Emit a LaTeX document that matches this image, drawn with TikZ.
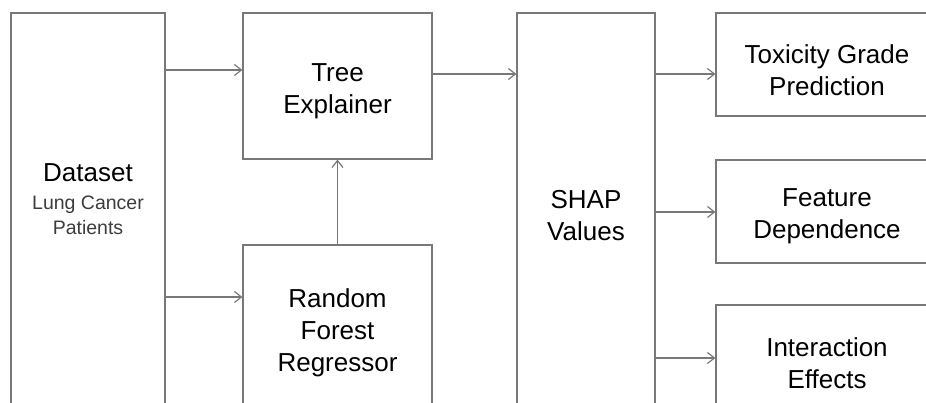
\documentclass[tikz,border=0pt]{standalone}
\usepackage{fontspec}
\setmainfont{Liberation Sans}
\usetikzlibrary{arrows.meta}

\definecolor{linegray}{RGB}{120,120,120}
\definecolor{subgray}{RGB}{60,60,60}

\tikzset{
  blk/.style={draw=linegray, line width=1.2pt, fill=white, inner sep=0pt},
  txt/.style={align=center, inner sep=0pt, font=\fontsize{26}{32}\selectfont},
  subtxt/.style={align=center, inner sep=0pt, text=subgray, font=\fontsize{19.5}{25}\selectfont},
  arr/.style={draw=linegray, line width=1.2pt,
    -{Straight Barb[length=7pt,width=11pt,line width=1.2pt]}}
}

\begin{document}
\begin{tikzpicture}[x=1pt,y=-1pt]
\useasboundingbox (0,0) rectangle (926,403);
\clip (0,0) rectangle (926,403);
% input column
\node[blk, minimum width=154, minimum height=417] (data) at (88,221.5) {};
\node[txt] (datatxt) at (88,173) {Dataset};
\node[subtxt] (datasub) at (88,215) {Lung Cancer\\Patients};
% model column
\node[blk, minimum width=189, minimum height=146] (tree) at (337.5,86) {};
\node[txt] (treetxt) at (337.5,91) {Tree\\Explainer};
\node[blk, minimum width=189, minimum height=170] (rf) at (337.5,330) {};
\node[txt] (rftxt) at (337.5,332.5) {Random\\Forest\\Regressor};
% shap column
\node[blk, minimum width=138, minimum height=400] (shap) at (586,213) {};
\node[txt] (shaptxt) at (586,215.5) {SHAP\\Values};
% outputs
\node[blk, minimum width=222, minimum height=103] (tox) at (827,64.5) {};
\node[txt] (toxtxt) at (827,70) {Toxicity Grade\\Prediction};
\node[blk, minimum width=222, minimum height=103] (feat) at (827,211.5) {};
\node[txt] (feattxt) at (827,216) {Feature\\Dependence};
\node[blk, minimum width=222, minimum height=112] (inter) at (827,361) {};
\node[txt] (intertxt) at (827,363.5) {Interaction\\Effects};
% connectors
\draw[arr] (data.east |- 0,70) -- (tree.west |- 0,70);
\draw[arr] (data.east |- 0,297) -- (rf.west |- 0,297);
\draw[arr] (rf.north) -- (tree.south);
\draw[arr] (tree.east |- 0,74) -- (shap.west |- 0,74);
\draw[arr] (shap.east |- 0,74) -- (tox.west |- 0,74);
\draw[arr] (shap.east |- 0,212) -- (feat.west |- 0,212);
\draw[arr] (shap.east |- 0,358) -- (inter.west |- 0,358);
\end{tikzpicture}
\end{document}
